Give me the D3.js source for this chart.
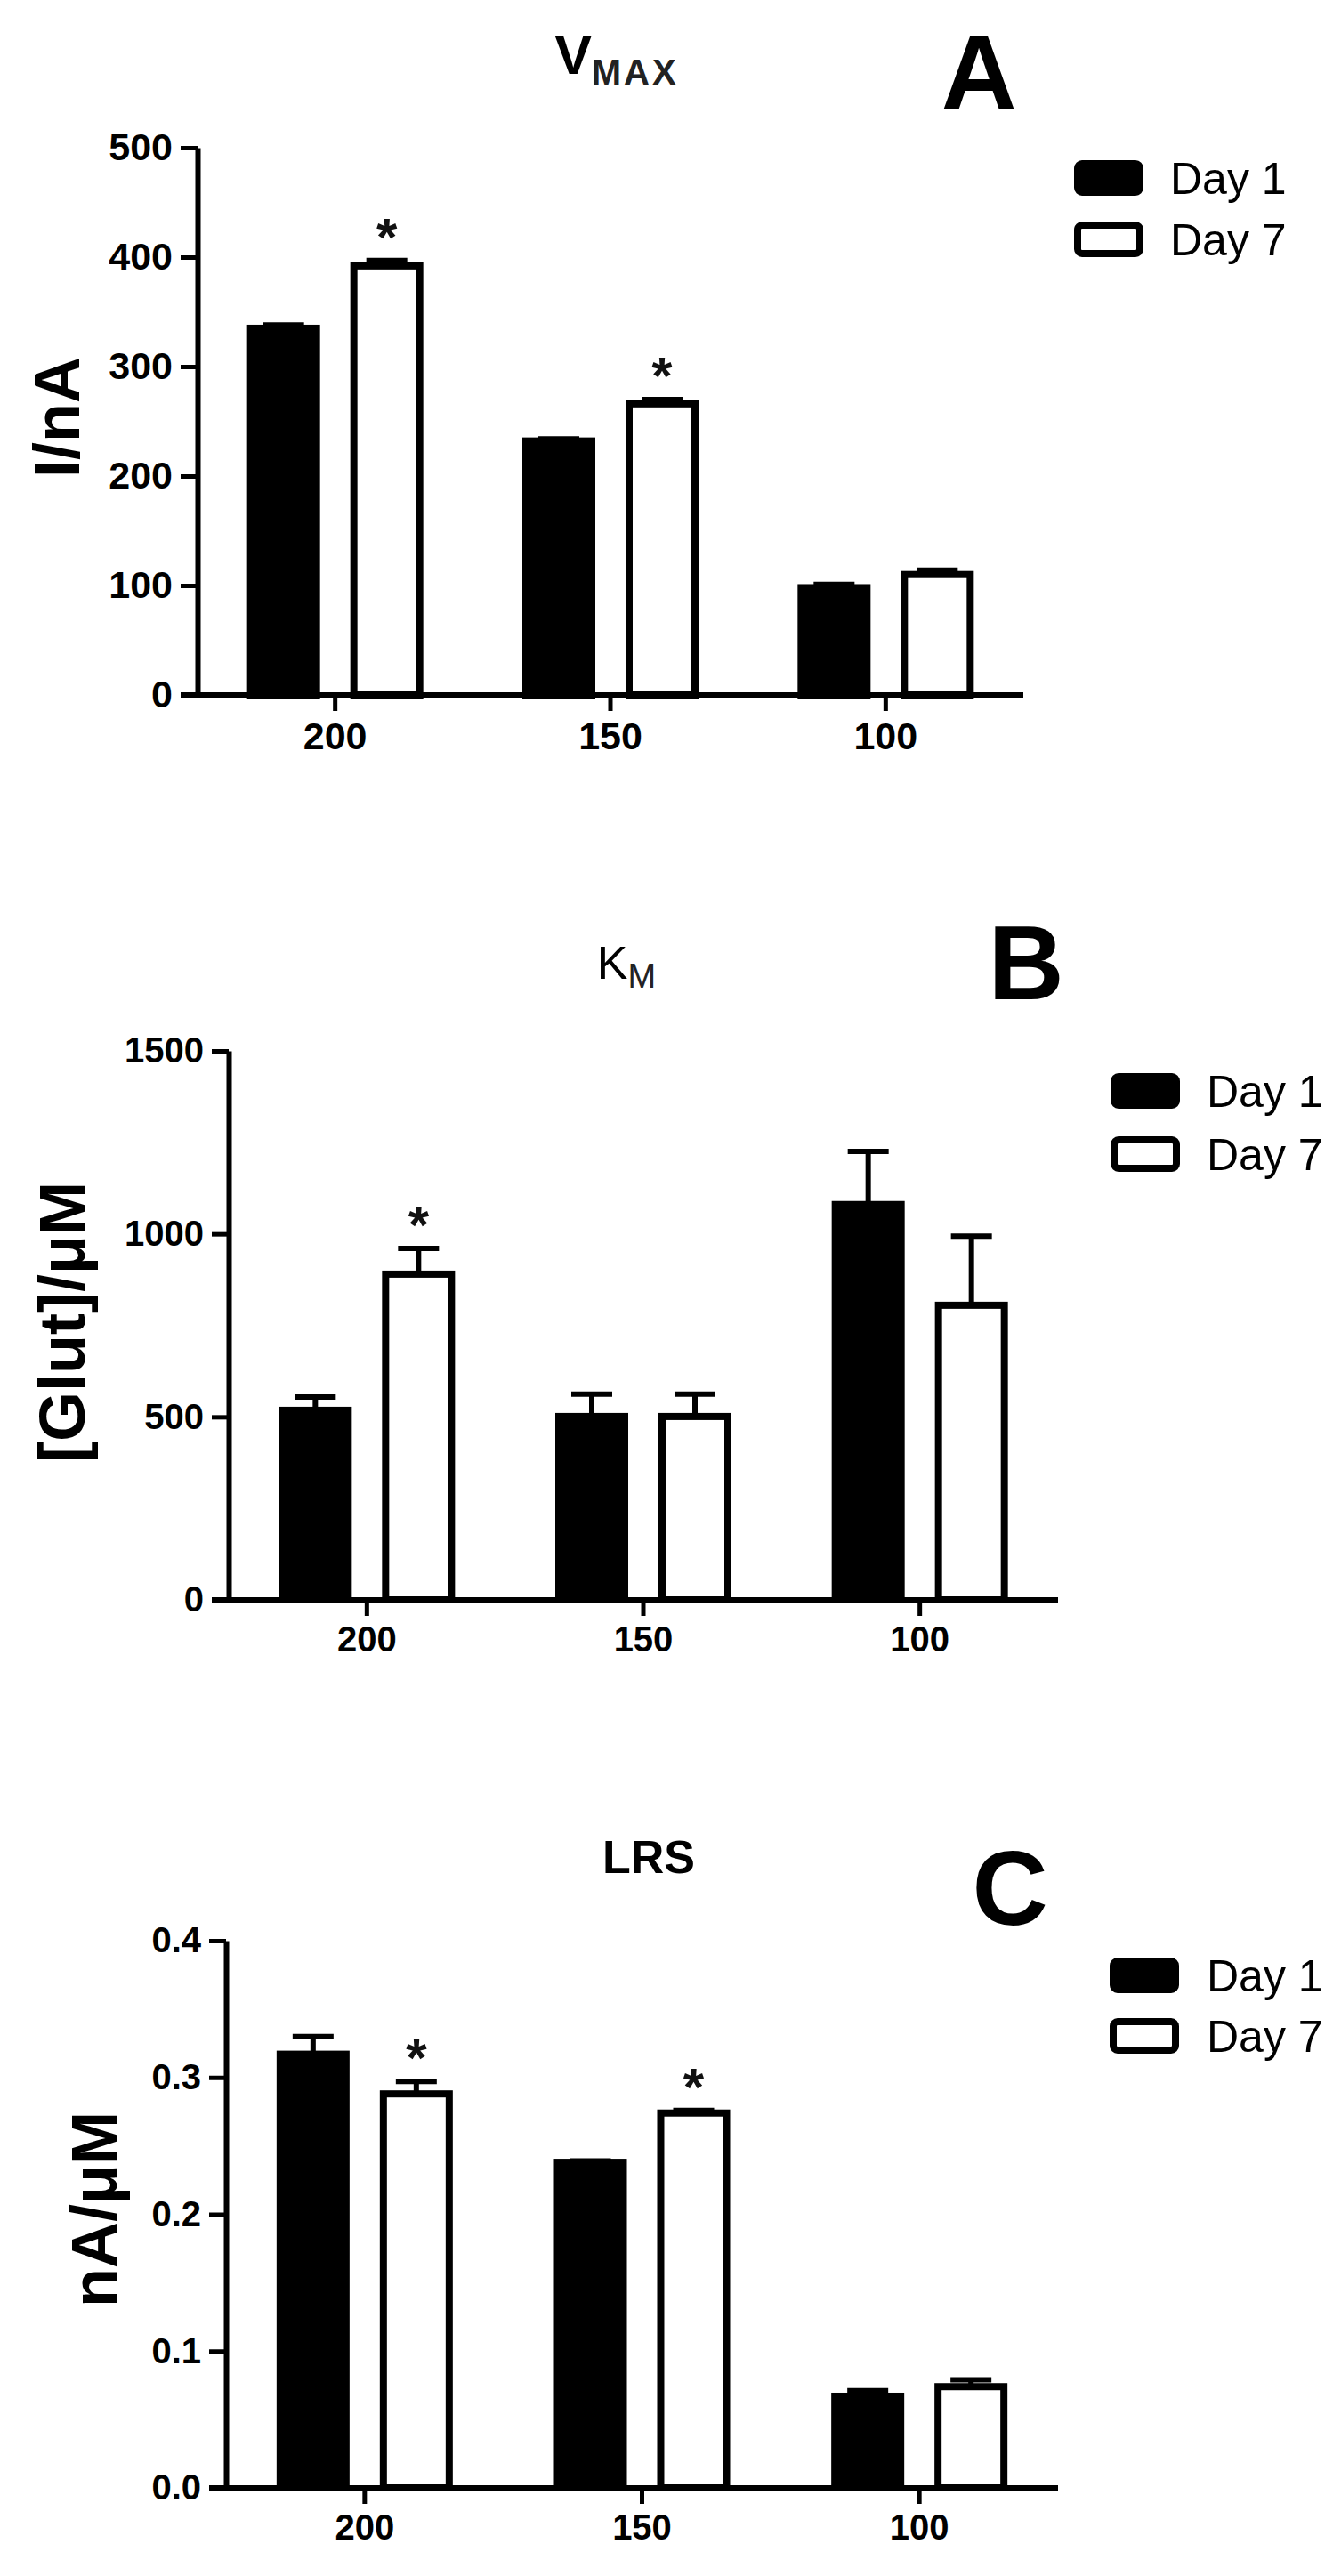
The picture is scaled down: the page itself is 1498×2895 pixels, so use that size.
<!DOCTYPE html>
<html>
<head>
<meta charset="utf-8">
<script src="https://cdn.jsdelivr.net/npm/d3@7"></script>
<style>
  body { margin: 0; background: #fff; }
  svg { display: block; font-family: "Liberation Sans", Arial, sans-serif; }
</style>
</head>
<body>
<svg id="chart" width="1498" height="2895"></svg>
<script>
// categories
const groups = ["200", "150", "100"];
const series = ["Day 1", "Day 7"];

// panel A - Vmax (I/nA)
const vmaxDay1 = [335, 232, 98];
const vmaxDay1Err = [3, 2, 3];
const vmaxDay7 = [392, 266, 110];
const vmaxDay7Err = [5, 4, 4];
const vmaxSig = [true, true, false];
const vmaxTicks = [0, 100, 200, 300, 400, 500];

// panel B - Km ([Glut]/uM)
const kmDay1 = [518, 501, 1080];
const kmDay1Err = [36, 61, 145];
const kmDay7 = [890, 501, 805];
const kmDay7Err = [70, 61, 189];
const kmSig = [true, false, false];
const kmTicks = [0, 500, 1000, 1500];

// panel C - LRS (nA/uM)
const lrsDay1 = [0.317, 0.238, 0.067];
const lrsDay1Err = [0.013, 0.001, 0.004];
const lrsDay7 = [0.288, 0.274, 0.074];
const lrsDay7Err = [0.009, 0.002, 0.005];
const lrsSig = [true, true, false];
const lrsTicks = [0, 0.1, 0.2, 0.3, 0.4];

const svg = d3.select("#chart");

const panels = [
    {
        day1: vmaxDay1, day1Err: vmaxDay1Err, day7: vmaxDay7, day7Err: vmaxDay7Err, sig: vmaxSig,
        ticks: vmaxTicks, fmt: d3.format("d"),
        axisX: 222, top: 166, bottom: 781, xEnd: 1150, tickFont: 43,
        title: "V", sub: "MAX", titleBold: true, titleX: 693, titleY: 83, titleSize: 62, subSize: 40,
        letter: "A", letterX: 1100, letterY: 123,
        legendX: 1207, legendY: [180, 249], legendTextX: 1315,
        ylabel: "I/nA", ylabelX: 89, ylabelY: 469
    },
    {
        day1: kmDay1, day1Err: kmDay1Err, day7: kmDay7, day7Err: kmDay7Err, sig: kmSig,
        ticks: kmTicks, fmt: d3.format("d"),
        axisX: 257, top: 1181, bottom: 1798, xEnd: 1189, tickFont: 40,
        title: "K", sub: "M", titleBold: false, titleX: 704, titleY: 1100, titleSize: 52, subSize: 38,
        letter: "B", letterX: 1153, letterY: 1123,
        legendX: 1248, legendY: [1206, 1277], legendTextX: 1356,
        ylabel: "[Glut]/\u03bcM", ylabelX: 95, ylabelY: 1486
    },
    {
        day1: lrsDay1, day1Err: lrsDay1Err, day7: lrsDay7, day7Err: lrsDay7Err, sig: lrsSig,
        ticks: lrsTicks, fmt: d3.format(".1f"),
        axisX: 254, top: 2181, bottom: 2796, xEnd: 1189, tickFont: 40,
        title: "LRS", sub: "", titleBold: true, titleX: 729, titleY: 2105, titleSize: 52, subSize: 0,
        letter: "C", letterX: 1135, letterY: 2163,
        legendX: 1247, legendY: [2200, 2268], legendTextX: 1356,
        ylabel: "nA/\u03bcM", ylabelX: 131, ylabelY: 2483
    }
];

panels.forEach(drawPanel);

function drawPanel(p) {
    let g = svg.append("g");
    let tickLen = 19;
    let stroke = 8;

    let x0 = d3.scaleBand()
        .domain(groups)
        .range([p.axisX, p.xEnd]);

    let x1 = d3.scaleBand()
        .domain(series)
        .range([-99, 99])
        .paddingInner(0.293);

    let y = d3.scaleLinear()
        .domain([0, d3.max(p.ticks)])
        .range([p.bottom, p.top]);

    let rows = groups.map((grp, i) => [
        { grp: grp, s: series[0], v: p.day1[i], e: p.day1Err[i], sig: false },
        { grp: grp, s: series[1], v: p.day7[i], e: p.day7Err[i], sig: p.sig[i] }
    ]).flat();

    let cx = d => x0(d.grp) + x0.bandwidth() / 2 + x1(d.s) + x1.bandwidth() / 2;

    // error bars (upper only)
    g.selectAll(".err")
        .data(rows)
        .enter()
        .append("line")
        .attr("x1", cx)
        .attr("x2", cx)
        .attr("y1", d => y(d.v))
        .attr("y2", d => y(d.v + d.e))
        .attr("stroke", "#000")
        .attr("stroke-width", 6);

    g.selectAll(".cap")
        .data(rows)
        .enter()
        .append("line")
        .attr("x1", d => cx(d) - 23)
        .attr("x2", d => cx(d) + 23)
        .attr("y1", d => y(d.v + d.e))
        .attr("y2", d => y(d.v + d.e))
        .attr("stroke", "#000")
        .attr("stroke-width", 6);

    // bars
    g.selectAll(".bar")
        .data(rows)
        .enter()
        .append("rect")
        .attr("x", d => cx(d) - x1.bandwidth() / 2 + stroke / 2)
        .attr("width", x1.bandwidth() - stroke)
        .attr("y", d => y(d.v))
        .attr("height", d => p.bottom - y(d.v))
        .attr("fill", d => d.s === series[0] ? "#000" : "#fff")
        .attr("stroke", "#000")
        .attr("stroke-width", stroke);

    // significance
    g.selectAll(".star")
        .data(rows.filter(d => d.sig))
        .enter()
        .append("text")
        .attr("x", cx)
        .attr("y", d => y(d.v + d.e) - 6)
        .attr("text-anchor", "middle")
        .style("font-size", "60px")
        .style("font-weight", "bold")
        .attr("fill", "#111")
        .text("*");

    // y axis
    let yAxis = g.append("g")
        .attr("transform", "translate(" + p.axisX + ",0)")
        .call(d3.axisLeft(y).tickValues(p.ticks).tickFormat(p.fmt).tickSize(tickLen).tickSizeOuter(0).tickPadding(9));
    yAxis.select(".domain").attr("stroke-width", 6);
    yAxis.selectAll(".tick line").attr("stroke-width", 5);
    yAxis.selectAll(".tick text")
        .attr("fill", "#000")
        .style("font-size", p.tickFont + "px")
        .style("font-weight", "bold")
        .style("font-family", "'Liberation Sans', Arial, sans-serif");

    // x axis
    let xAxis = g.append("g")
        .attr("transform", "translate(0," + p.bottom + ")")
        .call(d3.axisBottom(x0).tickSize(18).tickSizeOuter(0).tickPadding(12));
    xAxis.select(".domain").remove();
    xAxis.selectAll(".tick line").attr("stroke-width", 5);
    xAxis.selectAll(".tick text")
        .attr("fill", "#000")
        .style("font-size", p.tickFont + "px")
        .style("font-weight", "bold")
        .style("font-family", "'Liberation Sans', Arial, sans-serif");

    g.append("line")
        .attr("x1", p.axisX - tickLen)
        .attr("x2", p.xEnd)
        .attr("y1", p.bottom)
        .attr("y2", p.bottom)
        .attr("stroke", "#000")
        .attr("stroke-width", 6);

    // y label
    g.append("text")
        .attr("transform", "translate(" + p.ylabelX + "," + p.ylabelY + ") rotate(-90)")
        .attr("text-anchor", "middle")
        .style("font-size", "72px")
        .style("font-weight", "bold")
        .text(p.ylabel);

    // title with subscript
    let title = g.append("text")
        .attr("x", p.titleX)
        .attr("y", p.titleY)
        .attr("text-anchor", "middle")
        .style("font-weight", p.titleBold ? "bold" : "normal");
    title.append("tspan")
        .style("font-size", p.titleSize + "px")
        .text(p.title);
    if (p.sub) {
        title.append("tspan")
            .attr("dy", p.titleBold ? 12 : 10)
            .attr("fill", "#222")
            .attr("letter-spacing", p.titleBold ? 3 : 0)
            .style("font-size", p.subSize + "px")
            .text(p.sub);
    }

    // panel letter
    g.append("text")
        .attr("x", p.letterX)
        .attr("y", p.letterY)
        .attr("text-anchor", "middle")
        .style("font-size", "118px")
        .style("font-weight", "bold")
        .text(p.letter);

    // legend
    let leg = g.selectAll(".leg")
        .data(series)
        .enter()
        .append("g")
        .attr("transform", (d, i) => "translate(" + p.legendX + "," + p.legendY[i] + ")");

    leg.append("rect")
        .attr("x", 4)
        .attr("y", 4)
        .attr("width", 70)
        .attr("height", 32)
        .attr("rx", 5)
        .attr("fill", (d, i) => i === 0 ? "#000" : "#fff")
        .attr("stroke", "#000")
        .attr("stroke-width", 8);

    leg.append("text")
        .attr("x", p.legendTextX - p.legendX)
        .attr("y", 38)
        .style("font-size", "50px")
        .text(d => d);
}
</script>
</body>
</html>
